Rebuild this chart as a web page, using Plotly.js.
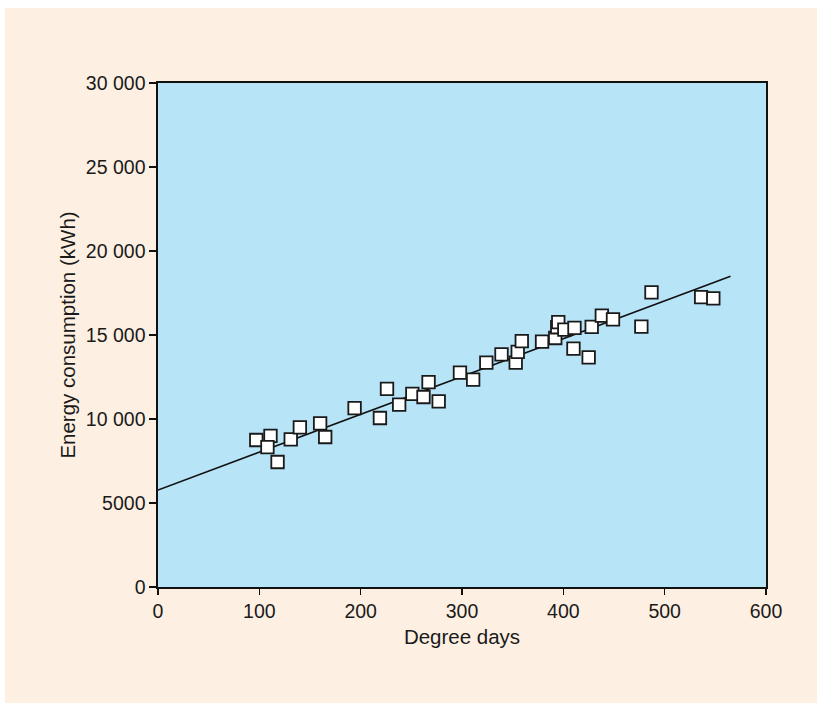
<!DOCTYPE html>
<html>
<head>
<meta charset="utf-8">
<script src="https://cdn.plot.ly/plotly-3.0.1.min.js"></script>
<style>
html,body{margin:0;padding:0;background:#ffffff;width:817px;height:703px;overflow:hidden;}
#chart{position:absolute;left:5px;top:8px;width:812px;height:695px;}
</style>
</head>
<body>
<div id="chart"></div>
<script>
const degreeDays = [97, 111, 108, 118, 131, 140, 160, 165, 194, 219, 226, 238, 251, 262, 267, 277, 298, 311, 324, 339, 353, 355, 359, 379, 392, 394, 395, 401, 411, 410, 425, 428, 438, 449, 477, 487, 536, 548];
const energyKWh = [8750, 8990, 8330, 7440, 8790, 9500, 9740, 8930, 10650, 10060, 11790, 10850, 11490, 11310, 12190, 11050, 12760, 12340, 13350, 13850, 13350, 13990, 14640, 14600, 14820, 15460, 15770, 15320, 15420, 14190, 13670, 15480, 16150, 15930, 15500, 17540, 17260, 17180];
const fitX = [0, 565];
const fitY = [5770, 18500];
const yTickVals = [0, 5000, 10000, 15000, 20000, 25000, 30000];
const yTickText = ['0', '5000', '10 000', '15 000', '20 000', '25 000', '30 000'];
const xTickVals = [0, 100, 200, 300, 400, 500, 600];

const font = {family: 'Liberation Sans, Arial, sans-serif', size: 19.5, color: '#1a1a1a'};
const titleFont = {family: 'Liberation Sans, Arial, sans-serif', size: 20.5, color: '#1a1a1a'};

const traces = [
  {x: fitX, y: fitY, mode: 'lines', type: 'scatter', line: {color: '#111111', width: 1.6}, hoverinfo: 'skip'},
  {x: degreeDays, y: energyKWh, mode: 'markers', type: 'scatter',
   marker: {symbol: 'square', size: 12.5, color: '#ffffff', line: {color: '#1a1a1a', width: 1.8}}}
];

const layout = {
  width: 812, height: 695,
  paper_bgcolor: '#fdf0e2',
  plot_bgcolor: '#b8e4f8',
  showlegend: false,
  font: font,
  margin: {l: 153, r: 51, t: 75, b: 116},
  xaxis: {
    range: [0, 600], tickvals: xTickVals, ticks: 'outside', ticklen: 6, tickwidth: 1.5, tickcolor: '#111',
    showline: true, linecolor: '#111', linewidth: 1.6, mirror: true, showgrid: false, zeroline: false,
    title: {text: 'Degree days', font: titleFont, standoff: 8}, tickfont: font
  },
  yaxis: {
    range: [0, 30000], tickvals: yTickVals, ticktext: yTickText, ticks: 'outside', ticklen: 7, tickwidth: 1.5, tickcolor: '#111',
    showline: true, linecolor: '#111', linewidth: 1.6, mirror: true, showgrid: false, zeroline: false,
    title: {text: 'Energy consumption (kWh)', font: titleFont, standoff: 4}, tickfont: font
  }
};

Plotly.newPlot('chart', traces, layout, {displayModeBar: false, staticPlot: true});
</script>
</body>
</html>
